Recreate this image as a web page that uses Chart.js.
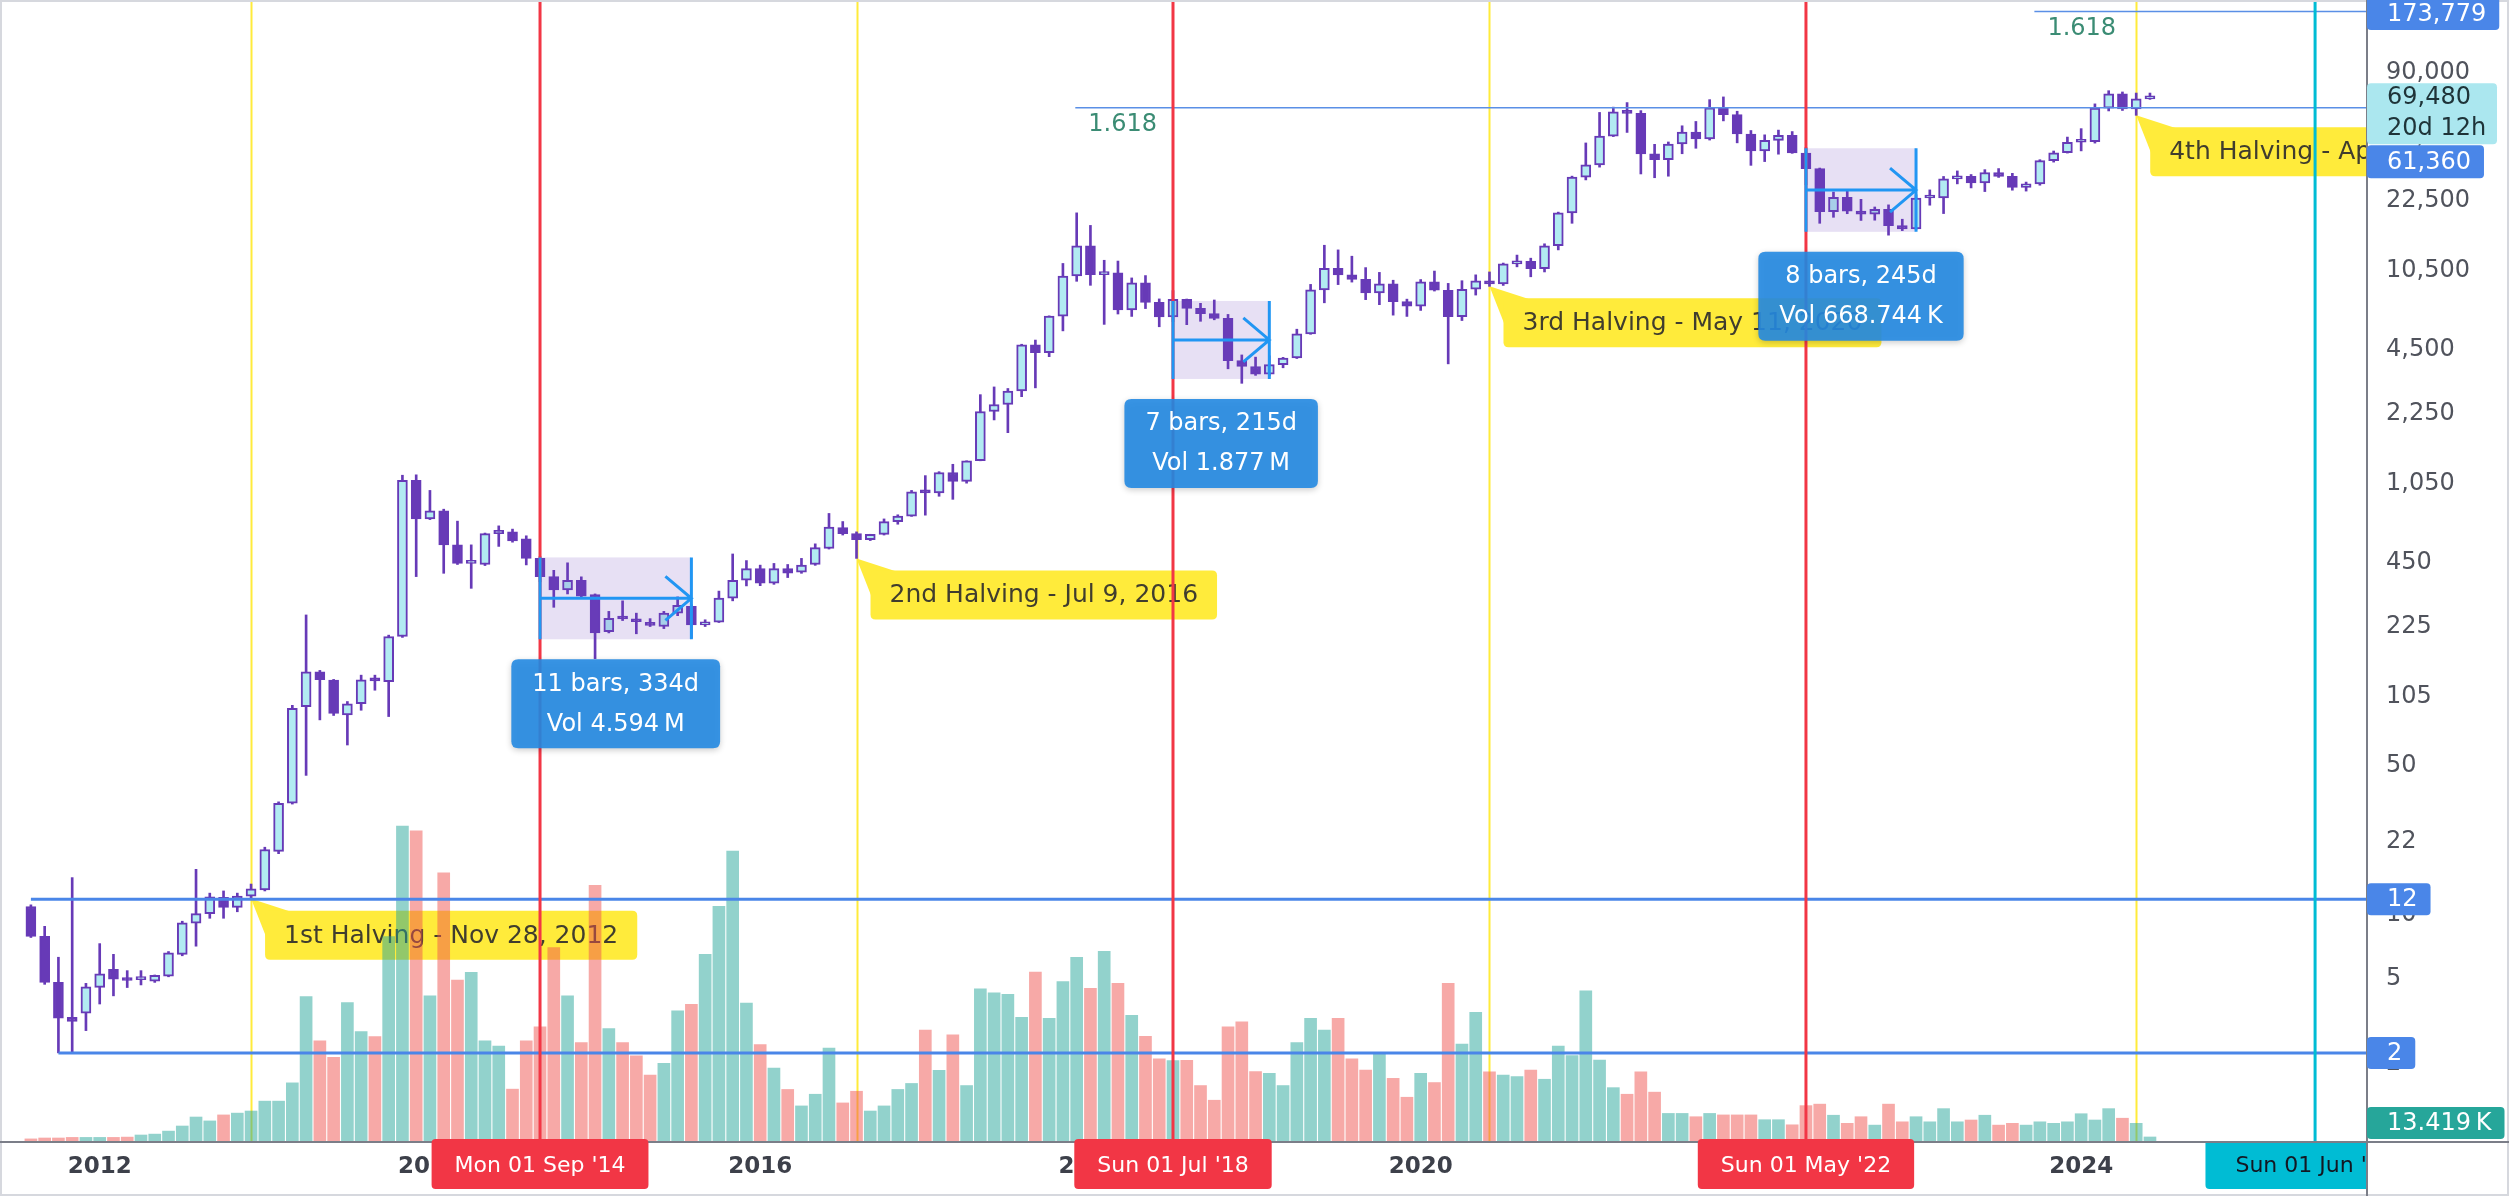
<!DOCTYPE html>
<html>
<head>
<meta charset="utf-8">
<script src="https://cdn.jsdelivr.net/npm/chart.js@4.4.1/dist/chart.umd.min.js"></script>
<style>
  html, body { margin: 0; padding: 0; background: #fff; }
  canvas { display: block; }
</style>
</head>
<body>
<canvas id="btcChart" width="2509" height="1196"></canvas>
<script>
const FONT = "'DejaVu Sans', sans-serif";

// BTCUSD monthly bars, Aug 2011 .. Jun 2024 (index 0 = Aug 2011)
const open = [
  10.9, 7.9, 4.8, 3.29, 3.44,
  4.55, 5.53, 4.97, 4.95, 4.87, 5.13, 6.5, 9.1, 10.1, 12.05, 10.8, 12.2,
  13.05, 19.8, 33.3, 94.6, 138, 126, 86.5, 97.6, 128, 124, 202, 1093,
  720, 785, 544, 445, 440, 614, 626, 581, 470, 386, 334, 371,
  318, 213, 248, 244, 235, 225, 260, 280, 229, 236, 306, 371,
  421, 360, 421, 405, 440, 523, 655, 614, 575, 609, 699, 742,
  970, 955, 1190, 1080, 1350, 2300, 2480, 2870, 4730, 4340, 6450, 9950,
  13800, 10100, 10300, 6900, 9240, 7490, 6390, 7730, 7020, 6630, 6300, 3990,
  3740, 3440, 3820, 4100, 5320, 8570, 10820, 10080, 9600, 8290, 9150, 7550,
  7190, 9350, 8530, 6410, 8630, 9450, 9140, 11350, 11660, 10780, 13800, 19700,
  28990, 33110, 45140, 58790, 57720, 37300, 35040, 41460, 47130, 43830, 61310, 56950,
  46210, 38480, 43160, 45520, 37630, 31800, 19930, 23300, 20050, 19420, 20490, 17170,
  16540, 23130, 23150, 28470, 29250, 27220, 30470, 29230, 25940, 26970, 34650, 37720,
  42280, 42580, 61180, 71330, 60650, 67530
];
const high = [
  11.1, 8.8, 6.3, 14.9, 4.75,
  7.3, 6.5, 5.45, 5.45, 5.2, 6.7, 9.3, 16.3, 12.6, 12.9, 12.6, 13.9,
  20.7, 33.8, 96, 255, 140, 127, 100, 133, 133, 205, 1155, 1160,
  980, 800, 703, 544, 618, 668, 645, 600, 480, 413, 448, 385,
  320, 265, 297, 260, 245, 265, 310, 285, 242, 330, 493, 459,
  437, 445, 440, 470, 550, 764, 700, 626, 610, 720, 753, 980,
  1150, 1200, 1300, 1350, 2760, 3000, 2950, 4760, 4980, 6470, 11400, 19700,
  17200, 11800, 11700, 9750, 10000, 7770, 8500, 7760, 7410, 7680, 6570, 4240,
  4140, 4200, 4130, 5600, 9090, 13880, 13200, 12330, 10900, 10350, 9510, 7750,
  9580, 10500, 9190, 9460, 10080, 10400, 11450, 12480, 12070, 14100, 19860, 29300,
  41950, 58350, 61780, 64900, 59500, 41330, 42400, 50500, 52920, 67000, 69000, 59100,
  47990, 45800, 48200, 47450, 40000, 31980, 24670, 25200, 22800, 20990, 21480, 18390,
  23950, 25250, 29200, 31000, 29820, 31430, 31800, 30200, 27480, 35000, 38450, 44700,
  48970, 64000, 73800, 72800, 71950, 71950
];
const low = [
  7.8, 4.7, 2.24, 2.24, 2.85,
  3.8, 4.15, 4.54, 4.67, 4.8, 5.1, 6.4, 7.1, 9.6, 9.6, 10.3, 11.85,
  12.9, 19.3, 33, 45, 82, 86, 62.5, 91, 113, 85, 200, 386,
  715, 400, 440, 340, 435, 535, 560, 438, 365, 277, 320, 305,
  159, 210, 240, 208, 225, 220, 253, 199, 225, 235, 297, 349,
  350, 355, 382, 400, 436, 520, 605, 470, 570, 605, 680, 740,
  750, 920, 890, 1060, 1350, 2100, 1830, 2700, 2970, 4160, 5500, 9400,
  9000, 5900, 6600, 6430, 7000, 5750, 6070, 5880, 6100, 6200, 3650, 3120,
  3400, 3390, 3690, 4080, 5300, 7450, 9070, 9320, 7710, 7300, 6520, 6430,
  6860, 8460, 3850, 6150, 8100, 8900, 8990, 10990, 9870, 10400, 13200, 17600,
  28130, 32300, 44950, 47000, 30000, 28800, 29280, 37330, 39600, 43280, 53250, 42000,
  32930, 34300, 37150, 37500, 26700, 17600, 18780, 19520, 18150, 18200, 15480, 16260,
  16500, 21400, 19550, 26950, 25800, 24800, 28900, 25170, 24930, 26560, 34100, 37600,
  38500, 41880, 59300, 59600, 56550, 67200
];
const close = [
  7.9, 4.8, 3.26, 3.15, 4.58,
  5.26, 4.97, 4.9, 5.0, 5.18, 6.6, 9.14, 10.1, 12.1, 10.8, 12.2, 13.2,
  20.2, 33.3, 93, 138, 126.5, 88, 97.6, 126.5, 125, 202, 1093, 720,
  785, 544, 445, 448, 614, 636, 568, 470, 386, 334, 371, 312,
  210, 246, 244, 237, 228, 260, 283, 229, 236, 306, 371, 421,
  360, 421, 401, 437, 528, 660, 614, 575, 609, 699, 742, 964,
  955, 1190, 1080, 1350, 2300, 2480, 2870, 4730, 4340, 6450, 9950, 13800,
  10100, 10300, 6900, 9240, 7490, 6390, 7730, 7020, 6630, 6300, 3990, 3740,
  3440, 3820, 4100, 5320, 8570, 10820, 10080, 9600, 8290, 9150, 7550, 7190,
  9350, 8530, 6410, 8630, 9450, 9140, 11350, 11660, 10780, 13800, 19700, 28990,
  33110, 45140, 58790, 57720, 37300, 35040, 41460, 47130, 43830, 61310, 56950, 46210,
  38480, 43160, 45520, 37630, 31800, 19930, 23300, 20050, 19420, 20490, 17170, 16540,
  23130, 23150, 28470, 29250, 27220, 30470, 29230, 25940, 26970, 34650, 37720, 42280,
  42580, 61180, 71330, 60650, 67530, 69480
];
// volume in thousands
const volume = [
  7, 10, 10, 12, 12,
  12, 12, 13, 20, 23, 33, 50, 80, 67, 87, 93, 100,
  133, 133, 194, 482, 334, 279, 462, 365, 348, 682, 1051, 1035,
  484, 895, 537, 563, 334, 317, 173, 334, 381, 645, 484, 328,
  853, 375, 328, 284, 220, 259, 434, 456, 623, 783, 967, 460,
  322, 243, 172, 117, 156, 310, 127, 166, 100, 117, 172, 192,
  370, 236, 354, 185, 508, 494, 489, 413, 564, 409, 532, 613,
  509, 633, 526, 419, 349, 274, 268, 269, 185, 136, 381, 398,
  232, 226, 185, 328, 409, 370, 409, 274, 237, 295, 209, 146,
  226, 195, 526, 323, 429, 231, 220, 215, 237, 206, 317, 285,
  501, 270, 178, 156, 231, 163, 92, 92, 81, 92, 87, 87,
  87, 71, 71, 54, 118, 123, 86, 59, 81, 53, 123, 64,
  81, 64, 108, 64, 70, 86, 53, 59, 53, 64, 59, 64,
  91, 70, 108, 76, 59, 13.419
];

// axis ticks
const priceTicks = [2, 5, 10, 22, 50, 105, 225, 450, 1050, 2250, 4500, 10500, 22500, 45000, 90000];
const yearTicks = [5, 29, 53, 77, 101, 125, 149];
const yearLabels = ['2012', '2014', '2016', '2018', '2020', '2022', '2024'];

// drawings
const halvingBars = [16, 60, 106, 153];
const halvingText = ['1st Halving - Nov 28, 2012', '2nd Halving - Jul 9, 2016', '3rd Halving - May 11, 2020', '4th Halving - Apr 20, 2024'];
const markBars = [37, 83, 129];
const markText = ["Mon 01 Sep '14", "Sun 01 Jul '18", "Sun 01 May '22"];
const cursorBar = 166;
const cursorText = "Sun 01 Jun '25";
const rayStart = [0, 2];
const rayPrice = [11.8, 2.24];
const fibStart = [75.9, 145.6];
const fibPrice = [61360, 173779];
const rangeStart = [37, 83, 129];
const rangeEnd = [48, 90, 137];
const rangeTop = [475, 7600, 39600];
const rangeBottom = [196, 3270, 16050];
const rangeBars = ['11 bars, 334d', '7 bars, 215d', '8 bars, 245d'];
const rangeVol = ['Vol 4.594\u2009M', 'Vol 1.877\u2009M', 'Vol 668.744\u2009K'];

const idx = close.map((_, i) => i);
const up = close.map((c, i) => c >= open[i]);

function rr(c, x, y, w, h, r) {
  c.beginPath();
  c.moveTo(x + r, y);
  c.lineTo(x + w - r, y); c.quadraticCurveTo(x + w, y, x + w, y + r);
  c.lineTo(x + w, y + h - r); c.quadraticCurveTo(x + w, y + h, x + w - r, y + h);
  c.lineTo(x + r, y + h); c.quadraticCurveTo(x, y + h, x, y + h - r);
  c.lineTo(x, y + r); c.quadraticCurveTo(x, y, x + r, y);
  c.closePath();
}

function noPad(s) {
  s.paddingTop = 0; s.paddingBottom = 0; s.paddingLeft = 0; s.paddingRight = 0;
}

const overlay = {
  id: 'overlay',
  beforeDraw(chart) {
    const c = chart.ctx;
    c.save();
    c.fillStyle = '#fff';
    c.fillRect(0, 0, chart.width, chart.height);
    c.restore();
  },
  beforeDatasetsDraw(chart) {
    const { ctx: c, chartArea: a, scales: { x, y } } = chart;
    c.save();
    c.beginPath(); c.rect(a.left, a.top, a.right - a.left, a.bottom - a.top); c.clip();
    c.strokeStyle = '#ffeb3b'; c.lineWidth = 2;
    halvingBars.forEach(m => {
      const px = Math.round(x.getPixelForValue(m)) + 0.5;
      c.beginPath(); c.moveTo(px, a.top); c.lineTo(px, a.bottom); c.stroke();
    });
    c.font = '25px ' + FONT;
    halvingBars.forEach((m, i) => {
      const px = x.getPixelForValue(m), py = y.getPixelForValue(low[m]);
      const L = px + 14, T = py + 12, h = 49;
      const w = c.measureText(halvingText[i]).width + 38;
      c.fillStyle = '#ffeb3b';
      c.beginPath(); c.moveTo(px, py); c.lineTo(L + 26, T + 1); c.lineTo(L + 1, T + 26); c.closePath(); c.fill();
      rr(c, L, T, w, h, 5); c.fill();
      c.fillStyle = '#403d2e'; c.textAlign = 'left'; c.textBaseline = 'middle';
      c.fillText(halvingText[i], L + 19, T + h / 2 + 1);
    });
    c.restore();
  },
  afterDatasetsDraw(chart) {
    const { ctx: c, chartArea: a, scales: { x, y } } = chart;
    c.save();
    c.beginPath(); c.rect(a.left, a.top, a.right - a.left, a.bottom - a.top); c.clip();

    // horizontal rays
    c.strokeStyle = '#4a86e8'; c.lineWidth = 3;
    rayPrice.forEach((p, i) => {
      const py = y.getPixelForValue(p);
      c.beginPath(); c.moveTo(x.getPixelForValue(rayStart[i]), py); c.lineTo(a.right, py); c.stroke();
    });
    // fib 1.618 levels
    c.lineWidth = 1.5; c.strokeStyle = '#5a8fe6';
    c.font = '24px ' + FONT; c.textAlign = 'left'; c.textBaseline = 'middle';
    fibPrice.forEach((p, i) => {
      const py = y.getPixelForValue(p), px = x.getPixelForValue(fibStart[i]);
      c.beginPath(); c.moveTo(px, py); c.lineTo(a.right, py); c.stroke();
      c.fillStyle = '#3b8c74';
      c.fillText('1.618', px + 13, py + 17);
    });
    // vertical date marks
    c.lineWidth = 3;
    c.strokeStyle = '#f23645';
    markBars.forEach(m => {
      const px = x.getPixelForValue(m);
      c.beginPath(); c.moveTo(px, a.top); c.lineTo(px, a.bottom); c.stroke();
    });
    c.strokeStyle = '#00bcd4';
    const cx = x.getPixelForValue(cursorBar);
    c.beginPath(); c.moveTo(cx, a.top); c.lineTo(cx, a.bottom); c.stroke();

    // date ranges
    rangeStart.forEach((m0, i) => {
      const x0 = x.getPixelForValue(m0), x1 = x.getPixelForValue(rangeEnd[i]);
      const yT = y.getPixelForValue(rangeTop[i]), yB = y.getPixelForValue(rangeBottom[i]);
      const yM = (yT + yB) / 2;
      c.fillStyle = 'rgba(110,70,190,0.17)';
      c.fillRect(x0, yT, x1 - x0, yB - yT);
      c.strokeStyle = '#2196f3'; c.lineWidth = 3;
      c.beginPath();
      c.moveTo(x0, yT); c.lineTo(x0, yB);
      c.moveTo(x1, yT); c.lineTo(x1, yB);
      c.moveTo(x0, yM); c.lineTo(x1, yM);
      c.moveTo(x1 - 26, yM - 22); c.lineTo(x1, yM); c.lineTo(x1 - 26, yM + 22);
      c.stroke();
      c.font = '24px ' + FONT;
      const w = Math.max(c.measureText(rangeBars[i]).width, c.measureText(rangeVol[i]).width) + 42;
      const mid = (x0 + x1) / 2, top = yB + 20, h = 89;
      c.save();
      c.shadowColor = 'rgba(0,0,0,0.22)'; c.shadowBlur = 6; c.shadowOffsetY = 2;
      c.fillStyle = 'rgba(35,138,226,0.9)';
      rr(c, mid - w / 2, top, w, h, 7); c.fill();
      c.restore();
      c.fillStyle = '#fff'; c.textAlign = 'center'; c.textBaseline = 'middle';
      c.fillText(rangeBars[i], mid, top + 25);
      c.fillText(rangeVol[i], mid, top + 65);
    });
    c.restore();
  },
  afterDraw(chart) {
    const { ctx: c, chartArea: a, scales: { x, y, yv } } = chart;
    c.save();
    // frame and axis separators
    c.strokeStyle = '#d6d8de'; c.lineWidth = 2;
    c.strokeRect(1, 1, chart.width - 2, chart.height - 2);
    c.strokeStyle = '#7b7e88'; c.lineWidth = 2;
    c.beginPath();
    c.moveTo(a.right + 1, 0); c.lineTo(a.right + 1, chart.height);
    c.moveTo(0, a.bottom + 1); c.lineTo(chart.width, a.bottom + 1);
    c.stroke();

    // price tags
    c.font = '24px ' + FONT; c.textAlign = 'left'; c.textBaseline = 'middle';
    const tag = (text, top, bg, fg, h) => {
      const w = c.measureText(text).width + 33;
      c.fillStyle = bg;
      rr(c, a.right + 1, top, w, h, 4); c.fill();
      c.fillStyle = fg;
      c.fillText(text, a.right + 21, top + h / 2 + 1);
    };
    const fmt = v => Math.round(v).toLocaleString('en-US');
    tag(fmt(fibPrice[1]), Math.max(y.getPixelForValue(fibPrice[1]) - 16, -3), '#4a86e8', '#fff', 33);
    // last price with countdown
    const last = close.length - 1;
    const ly = y.getPixelForValue(close[last]);
    const cTop = ly - 13, cH = 61;
    c.fillStyle = '#abe7ef';
    rr(c, a.right + 1, cTop, 130, cH, 4); c.fill();
    c.fillStyle = '#1e3338';
    c.fillText(fmt(close[last]), a.right + 21, cTop + 14);
    c.fillText('20d 12h', a.right + 21, cTop + 45);
    const fy = Math.max(y.getPixelForValue(fibPrice[0]) - 16, cTop + cH + 1);
    tag(fmt(fibPrice[0]), fy, '#4a86e8', '#fff', 33);
    rayPrice.forEach(p => tag(fmt(p), y.getPixelForValue(p) - 16, '#4a86e8', '#fff', 32));
    const vy = Math.min(yv.getPixelForValue(volume[last]) - 16, a.bottom - 34);
    tag(volume[last].toFixed(3) + '\u2009K', vy, '#26a69a', '#fff', 32);

    // time axis tags
    c.font = '22px ' + FONT; c.textAlign = 'center';
    const tTop = a.bottom + 2, tH = 46;
    markBars.forEach((m, i) => {
      const px = x.getPixelForValue(m);
      const w = c.measureText(markText[i]).width + 46;
      c.fillStyle = '#f23645';
      rr(c, px - w / 2, tTop - 4, w, tH + 4, 4); c.fill();
      c.fillStyle = '#fff';
      c.fillText(markText[i], px, tTop + tH / 2);
    });
    c.save();
    c.beginPath(); c.rect(0, tTop, a.right, tH + 10); c.clip();
    const qx = x.getPixelForValue(cursorBar);
    const qw = c.measureText(cursorText).width + 60;
    c.fillStyle = '#00bcd4';
    rr(c, qx - qw / 2, tTop - 4, qw, tH + 4, 4); c.fill();
    c.fillStyle = '#131722';
    c.fillText(cursorText, qx, tTop + tH / 2);
    c.restore();
    c.restore();
  }
};

const ctx = document.getElementById('btcChart').getContext('2d');

const btcChart = new Chart(ctx, {
  type: 'bar',
  data: {
    datasets: [
      {
        label: 'body',
        data: idx.map(i => ({ x: i, y: [open[i], close[i]] })),
        backgroundColor: up.map(u => u ? '#b2ebf2' : '#673ab7'),
        borderColor: '#673ab7',
        borderWidth: 2,
        borderSkipped: false,
        barThickness: 10,
        minBarLength: 3,
        grouped: false,
        yAxisID: 'y',
        order: 1
      },
      {
        label: 'wick',
        data: idx.map(i => ({ x: i, y: [low[i], high[i]] })),
        backgroundColor: '#673ab7',
        barThickness: 2,
        grouped: false,
        yAxisID: 'y',
        order: 2
      },
      {
        label: 'volume',
        data: idx.map(i => ({ x: i, y: volume[i] })),
        backgroundColor: up.map(u => u ? 'rgba(38,166,154,0.5)' : 'rgba(239,83,80,0.5)'),
        barThickness: 12,
        grouped: false,
        yAxisID: 'yv',
        order: 3
      }
    ]
  },
  options: {
    responsive: false,
    animation: false,
    devicePixelRatio: 1,
    layout: { padding: 0, autoPadding: false },
    plugins: {
      legend: { display: false },
      tooltip: { enabled: false }
    },
    scales: {
      x: {
        type: 'linear',
        min: -2.246,
        max: 169.7,
        offset: false,
        grid: { display: false, drawTicks: false },
        border: { display: false },
        afterBuildTicks: s => { s.ticks = yearTicks.map(v => ({ value: v })); },
        afterFit: s => { s.height = 55; noPad(s); },
        ticks: {
          autoSkip: false,
          maxRotation: 0,
          padding: 12,
          color: '#3d404a',
          font: { family: FONT, size: 23, weight: 'bold' },
          callback: v => yearLabels[yearTicks.indexOf(v)]
        }
      },
      y: {
        type: 'logarithmic',
        position: 'right',
        min: 0.864,
        max: 196760,
        grid: { display: false, drawTicks: false },
        border: { display: false },
        afterBuildTicks: s => { s.ticks = priceTicks.map(v => ({ value: v })); },
        afterFit: s => { s.width = 143; noPad(s); },
        ticks: {
          autoSkip: false,
          padding: 20,
          color: '#50535c',
          font: { family: FONT, size: 24 },
          callback: v => v.toLocaleString('en-US')
        }
      },
      yv: {
        type: 'linear',
        display: false,
        min: 0,
        max: 3807,
        afterFit: noPad
      }
    }
  },
  plugins: [overlay]
});
</script>
</body>
</html>
